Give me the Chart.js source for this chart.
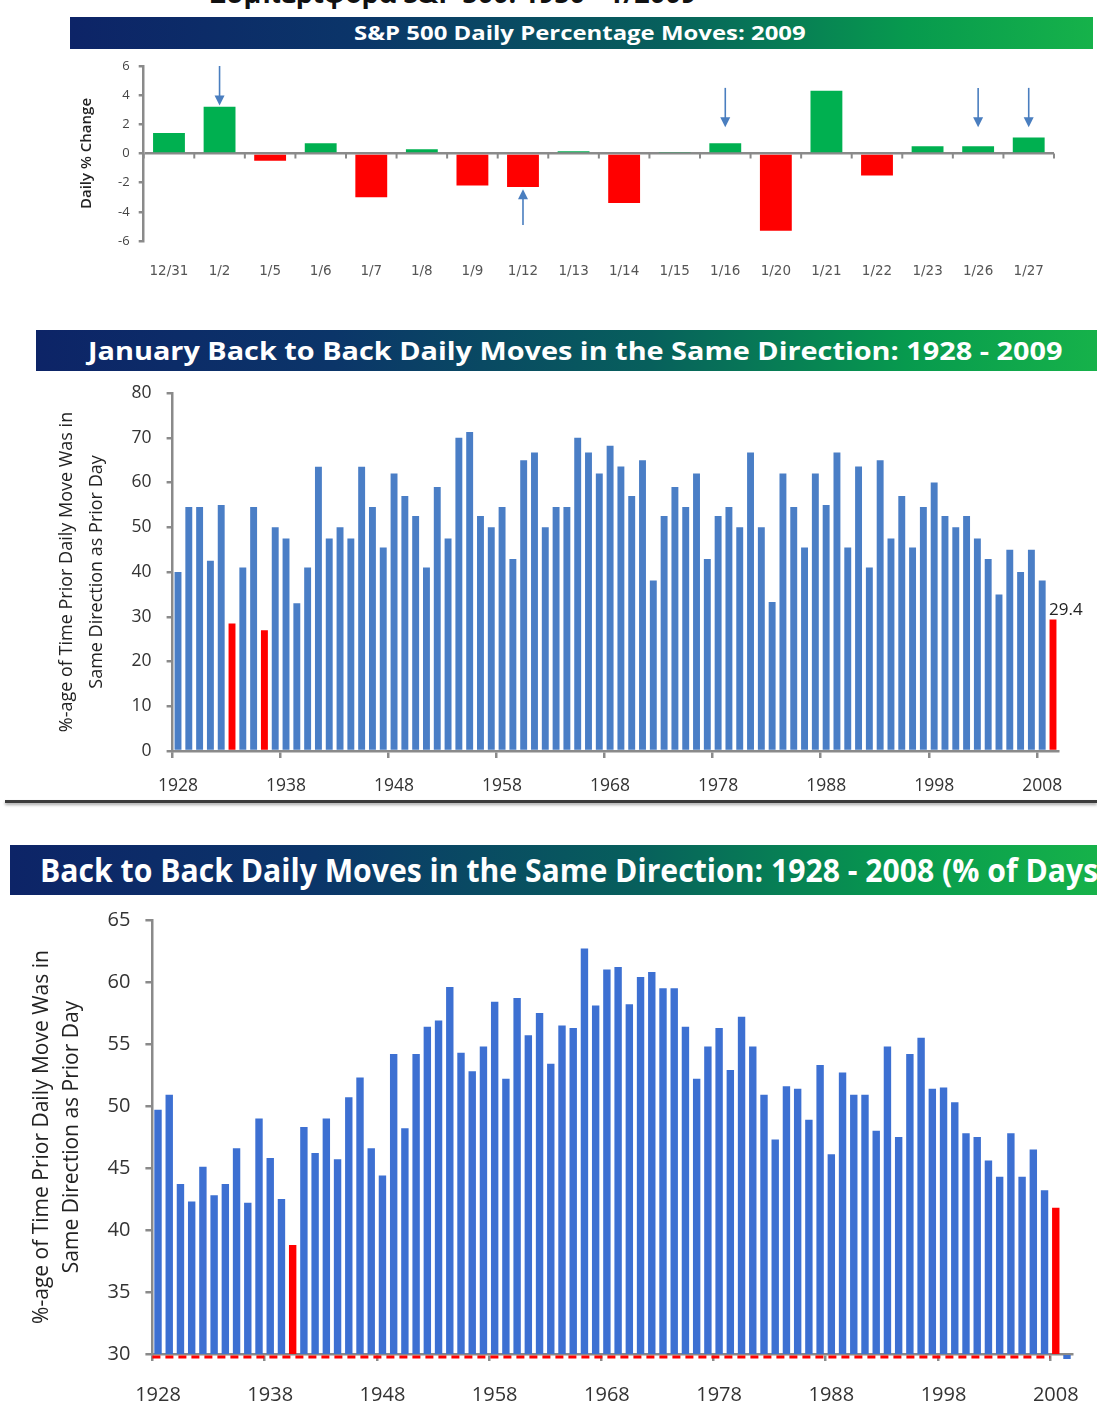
<!DOCTYPE html>
<html>
<head>
<meta charset="utf-8">
<script src="https://cdn.jsdelivr.net/npm/chart.js@4.4.1/dist/chart.umd.min.js"></script>
<style>
  html, body { margin: 0; padding: 0; background: #fff; }
  body { width: 1097px; height: 1405px; position: relative; overflow: hidden; font-family: 'Open Sans', sans-serif; }
  .banner { position: absolute; overflow: hidden; white-space: nowrap; color: #fff; font-weight: 700;
    background: linear-gradient(to right, #0d2467 0%, #0b3569 28%, #07605c 58%, #079a4e 82%, #16b24a 100%); }
  .banner span { position: absolute; top: 0; transform-origin: 0 50%; }
  .cut { position: absolute; left: 210px; top: -26px; font: 700 27px 'Open Sans', sans-serif; color: #111; white-space: nowrap; }
  .sep { position: absolute; left: 5px; top: 800px; width: 1092px; height: 3px; background: #3c3c3c;
    box-shadow: 0 2px 3px rgba(0,0,0,0.35); }
  canvas { position: absolute; left: 0; }
</style>
</head>
<body>
<div class="cut">Συμπεριφορά S&amp;P 500: 1950 - 1/2009</div>

<div class="banner" style="left:70px; top:17px; width:1023px; height:32px; font-size:20px; line-height:32px;">
  <span data-x="284" data-w="452">S&amp;P 500 Daily Percentage Moves: 2009</span>
</div>
<canvas id="chart-daily" width="1097" height="235" style="top:55px"></canvas>

<div class="banner" style="left:36px; top:330px; width:1061px; height:41px; font-size:25px; line-height:41px;">
  <span data-x="52" data-w="975">January Back to Back Daily Moves in the Same Direction: 1928 - 2009</span>
</div>
<canvas id="chart-january" width="1097" height="425" style="top:375px"></canvas>

<div class="sep"></div>

<div class="banner" style="left:10px; top:845px; width:1087px; height:50px; font-size:32px; line-height:50px;">
  <span data-x="30" data-w="1068">Back to Back Daily Moves in the Same Direction: 1928 - 2008 (% of Days)</span>
</div>
<canvas id="chart-all" width="1097" height="505" style="top:900px"></canvas>

<script>
// S&P 500 daily moves, January 2009
const dayLabels = ['12/31', '1/2', '1/5', '1/6', '1/7', '1/8', '1/9', '1/12', '1/13',
  '1/14', '1/15', '1/16', '1/20', '1/21', '1/22', '1/23', '1/26', '1/27'];
const dayMoves = [1.4, 3.2, -0.5, 0.7, -3.0, 0.3, -2.2, -2.3, 0.15,
  -3.4, 0.1, 0.7, -5.3, 4.3, -1.5, 0.5, 0.5, 1.1];
// arrow annotations (value units)
const dayArrows = [
  { label: '1/2', from: 6.0, to: 3.3 },
  { label: '1/12', from: -4.9, to: -2.45 },
  { label: '1/16', from: 4.5, to: 1.8 },
  { label: '1/26', from: 4.5, to: 1.8 },
  { label: '1/27', from: 4.5, to: 1.8 }
];

const years = [1928, 1929, 1930, 1931, 1932, 1933, 1934, 1935, 1936, 1937,
  1938, 1939, 1940, 1941, 1942, 1943, 1944, 1945, 1946, 1947,
  1948, 1949, 1950, 1951, 1952, 1953, 1954, 1955, 1956, 1957,
  1958, 1959, 1960, 1961, 1962, 1963, 1964, 1965, 1966, 1967,
  1968, 1969, 1970, 1971, 1972, 1973, 1974, 1975, 1976, 1977,
  1978, 1979, 1980, 1981, 1982, 1983, 1984, 1985, 1986, 1987,
  1988, 1989, 1990, 1991, 1992, 1993, 1994, 1995, 1996, 1997,
  1998, 1999, 2000, 2001, 2002, 2003, 2004, 2005, 2006, 2007,
  2008, 2009];

// January: % of days with same direction as prior day
const janSameDir = [40, 54.5, 54.5, 42.5, 55, 28.5, 41, 54.5, 27, 50,
  47.5, 33, 41, 63.5, 47.5, 50, 47.5, 63.5, 54.5, 45.5,
  62, 57, 52.5, 41, 59, 47.5, 70, 71.3, 52.5, 50,
  54.5, 42.9, 65, 66.7, 50, 54.5, 54.5, 70, 66.7, 62,
  68.2, 63.6, 57, 65, 38.1, 52.5, 59, 54.5, 62, 42.9,
  52.5, 54.5, 50, 66.7, 50, 33.3, 62, 54.5, 45.5, 62,
  55, 66.7, 45.5, 63.6, 41, 65, 47.5, 57, 45.5, 54.5,
  60, 52.5, 50, 52.5, 47.5, 42.9, 35, 45, 40, 45,
  38.1, 29.4];
const janRedYears = [1933, 1936, 2009];
const janLabelYears = [2009];

// full year: % of days with same direction as prior day
const allSameDir = [49.7, 50.9, 43.7, 42.3, 45.1, 42.8, 43.7, 46.6, 42.2, 49.0,
  45.8, 42.5, 38.8, 48.3, 46.2, 49.0, 45.7, 50.7, 52.3, 46.6,
  44.4, 54.2, 48.2, 54.2, 56.4, 56.9, 59.6, 54.3, 52.8, 54.8,
  58.4, 52.2, 58.7, 55.7, 57.5, 53.4, 56.5, 56.3, 62.7, 58.1,
  61.0, 61.2, 58.2, 60.4, 60.8, 59.5, 59.5, 56.4, 52.2, 54.8,
  56.3, 52.9, 57.2, 54.8, 50.9, 47.3, 51.6, 51.4, 48.9, 53.3,
  46.1, 52.7, 50.9, 50.9, 48.0, 54.8, 47.5, 54.2, 55.5, 51.4,
  51.5, 50.3, 47.8, 47.5, 45.6, 44.3, 47.8, 44.3, 46.5, 43.2,
  41.8, 29.4];
const allRedYears = [1940, 2008];
const allBaseline = 30;

const AXIS = '#8a8a8a';
const TEXT = '#333';
const GREEN = '#00b050';
const RED = '#ff0000';
const BLUE_JAN = '#4a7ec6';
const BLUE_ALL = '#3d70d2';
const ARROW = '#4a7ebf';

Chart.defaults.font.family = "'Open Sans', sans-serif";
Chart.defaults.color = TEXT;

// fit banner titles
document.querySelectorAll('.banner span').forEach(s => {
  s.style.left = s.dataset.x + 'px';
  s.style.transform = `scaleX(${(+s.dataset.w) / s.offsetWidth})`;
});

// pin the y axis box so the plot area lines up with the picture
function pinY(width) {
  return s => { s.width = width; s.paddingTop = 0; s.paddingBottom = 0; };
}

// small tick marks on the zero line between categories
const zeroTicks = {
  id: 'zeroTicks',
  afterDatasetsDraw(chart) {
    const { ctx, scales: { x, y } } = chart;
    const y0 = y.getPixelForValue(0);
    ctx.save();
    ctx.strokeStyle = AXIS;
    ctx.lineWidth = 2;
    for (let i = 0; i <= dayLabels.length; i++) {
      const px = x.getPixelForValue(i - 0.5);
      ctx.beginPath();
      ctx.moveTo(px, y0);
      ctx.lineTo(px, y0 + 5);
      ctx.stroke();
    }
    ctx.restore();
  }
};

const arrows = {
  id: 'arrows',
  afterDatasetsDraw(chart) {
    const { ctx, scales: { x, y } } = chart;
    ctx.save();
    ctx.strokeStyle = ARROW;
    ctx.fillStyle = ARROW;
    ctx.lineWidth = 1.6;
    dayArrows.forEach(a => {
      const px = x.getPixelForValue(dayLabels.indexOf(a.label));
      const y1 = y.getPixelForValue(a.from);
      const y2 = y.getPixelForValue(a.to);
      const dir = y2 > y1 ? 1 : -1;
      ctx.beginPath();
      ctx.moveTo(px, y1);
      ctx.lineTo(px, y2 - dir * 8);
      ctx.stroke();
      ctx.beginPath();
      ctx.moveTo(px, y2);
      ctx.lineTo(px - 5, y2 - dir * 10);
      ctx.lineTo(px + 5, y2 - dir * 10);
      ctx.closePath();
      ctx.fill();
    });
    ctx.restore();
  }
};

const valueLabels = {
  id: 'valueLabels',
  afterDatasetsDraw(chart) {
    const { ctx } = chart;
    const meta = chart.getDatasetMeta(0);
    ctx.save();
    ctx.fillStyle = '#222';
    ctx.font = "17px 'Open Sans', sans-serif";
    ctx.textAlign = 'left';
    ctx.textBaseline = 'bottom';
    janLabelYears.forEach(yr => {
      const i = years.indexOf(yr);
      const bar = meta.data[i];
      ctx.fillText(String(janSameDir[i]), bar.x - 4, bar.y - 1);
    });
    ctx.restore();
  }
};

const dashedBase = {
  id: 'dashedBase',
  afterDatasetsDraw(chart) {
    const { ctx, scales: { x, y } } = chart;
    const py = y.getPixelForValue(allBaseline) + 3;
    ctx.save();
    ctx.strokeStyle = RED;
    ctx.lineWidth = 3;
    ctx.setLineDash([8, 5]);
    ctx.beginPath();
    ctx.moveTo(x.left, py);
    ctx.lineTo(x.getPixelForValue(years.indexOf(2008) - 0.5), py);
    ctx.stroke();
    // the 2009 bar sits below the axis minimum; show its sliver
    const i = years.indexOf(2009);
    const bar = chart.getDatasetMeta(0).data[i];
    ctx.setLineDash([]);
    ctx.fillStyle = BLUE_ALL;
    ctx.fillRect(bar.x - bar.width / 2, py - 2, bar.width, 4);
    ctx.restore();
  }
};

// top chart: daily moves
new Chart(document.getElementById('chart-daily'), {
  type: 'bar',
  data: {
    labels: dayLabels,
    datasets: [{
      data: dayMoves,
      backgroundColor: dayMoves.map(v => v >= 0 ? GREEN : RED),
      barPercentage: 0.63,
      categoryPercentage: 1
    }]
  },
  options: {
    responsive: false,
    animation: false,
    layout: { padding: { left: 0, top: 11, right: 43, bottom: 0 } },
    plugins: { legend: { display: false }, tooltip: { enabled: false } },
    scales: {
      x: {
        grid: { display: false },
        border: { display: false },
        ticks: { font: { size: 13.5, family: "'DejaVu Sans', sans-serif" }, color: '#555', padding: 14, maxRotation: 0, autoSkip: false },
        afterFit: s => { s.height = 49; }
      },
      y: {
        min: -6, max: 6,
        ticks: { stepSize: 2, font: { size: 13 }, color: '#444', padding: 9 },
        grid: {
          color: c => c.tick && c.tick.value === 0 ? AXIS : 'rgba(0,0,0,0)',
          lineWidth: 2.5, tickColor: AXIS, tickLength: 5
        },
        border: { display: true, color: AXIS, width: 2.5 },
        title: { display: true, text: 'Daily % Change', color: '#222',
          font: { size: 15, weight: '600' }, padding: { top: 78 } },
        afterFit: pinY(143.7)
      }
    }
  },
  plugins: [zeroTicks, arrows]
});

// middle chart: January
new Chart(document.getElementById('chart-january'), {
  type: 'bar',
  data: {
    labels: years,
    datasets: [{
      data: janSameDir,
      backgroundColor: years.map(y => janRedYears.includes(y) ? RED : BLUE_JAN),
      barPercentage: 0.64,
      categoryPercentage: 1
    }]
  },
  options: {
    responsive: false,
    animation: false,
    layout: { padding: { left: 0, top: 18, right: 38.6, bottom: 0 } },
    plugins: { legend: { display: false }, tooltip: { enabled: false } },
    scales: {
      x: {
        grid: {
          offset: true, drawOnChartArea: false, tickLength: 7, lineWidth: 2.5,
          color: c => (c.type === 'tick' && c.index % 10 === 0) ? AXIS : 'rgba(0,0,0,0)'
        },
        border: { display: true, color: AXIS, width: 2.5 },
        ticks: {
          autoSkip: false, maxRotation: 0, padding: 18, font: { size: 17.5 }, color: TEXT,
          callback: (v, i) => i % 10 === 0 ? String(years[i]) : ''
        },
        afterFit: s => { s.height = 49; }
      },
      y: {
        min: 0, max: 80,
        ticks: { stepSize: 10, font: { size: 17.5 }, color: TEXT, padding: 15 },
        grid: { drawOnChartArea: false, tickColor: AXIS, tickLength: 6, lineWidth: 2.5 },
        border: { display: true, color: AXIS, width: 2.5 },
        title: {
          display: true, color: '#222',
          text: ['%-age of Time Prior Daily Move Was in', 'Same Direction as Prior Day'],
          font: { size: 18, lineHeight: 1.65 }, padding: { top: 52 }
        },
        afterFit: pinY(172.6)
      }
    }
  },
  plugins: [valueLabels]
});

// bottom chart: all days
new Chart(document.getElementById('chart-all'), {
  type: 'bar',
  data: {
    labels: years,
    datasets: [{
      data: allSameDir,
      backgroundColor: years.map(y => allRedYears.includes(y) ? RED : BLUE_ALL),
      barPercentage: 0.66,
      categoryPercentage: 1
    }]
  },
  options: {
    responsive: false,
    animation: false,
    layout: { padding: { left: 0, top: 20, right: 24.4, bottom: 0 } },
    plugins: { legend: { display: false }, tooltip: { enabled: false } },
    scales: {
      x: {
        grid: {
          offset: true, drawOnChartArea: false, tickLength: 7, lineWidth: 2.5,
          color: c => (c.type === 'tick' && c.index % 10 === 0) ? AXIS : 'rgba(0,0,0,0)'
        },
        border: { display: true, color: AXIS, width: 2.5 },
        ticks: {
          autoSkip: false, maxRotation: 0, padding: 22, font: { size: 20 }, color: TEXT,
          callback: (v, i) => (i % 10 === 0 && years[i] <= 2008) ? String(years[i]) : ''
        },
        afterFit: s => { s.height = 51; }
      },
      y: {
        min: 30, max: 65,
        ticks: { stepSize: 5, font: { size: 20 }, color: TEXT, padding: 15 },
        grid: { drawOnChartArea: false, tickColor: AXIS, tickLength: 7, lineWidth: 2.5 },
        border: { display: true, color: AXIS, width: 2.5 },
        title: {
          display: true, color: '#222',
          text: ['%-age of Time Prior Daily Move Was in', 'Same Direction as Prior Day'],
          font: { size: 21, lineHeight: 1.43 }, padding: { top: 27 }
        },
        afterFit: pinY(152.4)
      }
    }
  },
  plugins: [dashedBase]
});
</script>
</body>
</html>
